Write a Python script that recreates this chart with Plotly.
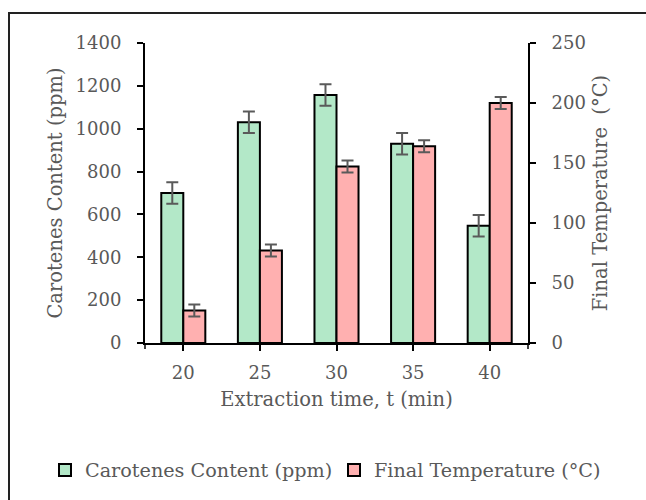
import plotly.graph_objects as go

# Extraction times (min)
times = ["20", "25", "30", "35", "40"]

# Carotenes content (ppm) with standard deviations
carotenes = [700, 1030, 1157, 930, 547]
carotenes_err = [50, 50, 50, 50, 50]

# Final temperature (°C) with standard deviations
temperature = [27, 77, 147, 164, 200]
temperature_err = [5, 5, 5, 5, 5]

FONT = "DejaVu Serif"
TXT = "#595959"

W, H = 646, 500
L, R, T, B = 145, 118, 43, 157
pw, ph = W - L - R, H - T - B


def px_x(p):
    return (p - L) / pw


def px_y(p):
    return (H - B - p) / ph


fig = go.Figure()

fig.add_trace(go.Bar(
    x=times, y=carotenes, name="Carotenes Content (ppm)",
    marker=dict(color="#b3e8c8", line=dict(color="black", width=2)),
    error_y=dict(type="data", array=carotenes_err, color="#5a5a5a", thickness=2, width=6),
    offsetgroup="1", yaxis="y", legend="legend",
))
fig.add_trace(go.Bar(
    x=times, y=temperature, name="Final Temperature (°C)",
    marker=dict(color="#ffb0b0", line=dict(color="black", width=2)),
    error_y=dict(type="data", array=temperature_err, color="#5a5a5a", thickness=2, width=6),
    offsetgroup="2", yaxis="y2", legend="legend2",
))

axis_common = dict(
    showline=True, linecolor="black", linewidth=2,
    ticks="outside", ticklen=6, tickwidth=1.5, tickcolor="black",
    showgrid=False, zeroline=False,
    tickfont=dict(family=FONT, size=18, color=TXT),
)
title_font = dict(family=FONT, size=19.5, color=TXT)

legend_common = dict(
    orientation="h", xref="container", yref="container",
    xanchor="left", y=(H - 470) / H, yanchor="middle",
    font=dict(family=FONT, size=19.2, color=TXT),
    itemwidth=30, borderwidth=0, bgcolor="rgba(0,0,0,0)",
)

fig.update_layout(
    width=W, height=H,
    margin=dict(l=L, r=R, t=T, b=B, autoexpand=False),
    paper_bgcolor="white", plot_bgcolor="white",
    barmode="group", bargap=0.425, bargroupgap=0,
    font=dict(family=FONT, color=TXT),
    xaxis=dict(
        **axis_common, range=[-0.5, 4.5], type="category",
        ticklabelstandoff=6,
        title=dict(text="Extraction time, t (min)", standoff=11, font=title_font),
    ),
    yaxis=dict(
        **axis_common, range=[0, 1400], dtick=200,
        ticklabelstandoff=12,
        title=dict(text="Carotenes Content (ppm)", standoff=8, font=title_font),
    ),
    yaxis2=dict(
        **axis_common, range=[0, 250], dtick=50, side="right", overlaying="y",
        ticklabelstandoff=12,
        title=dict(text="Final Temperature  (°C)", standoff=8, font=title_font),
    ),
    legend=dict(**legend_common, x=45 / W),
    legend2=dict(**legend_common, x=334 / W),
    showlegend=True,
)

# end ticks of the category axis
for xe in (0, 1):
    fig.add_shape(type="line", xref="paper", yref="paper",
                  x0=xe, x1=xe, y0=0, y1=px_y(H - B + 6),
                  line=dict(color="black", width=1.5))

# chart frame
fig.add_shape(type="rect", xref="paper", yref="paper",
              x0=px_x(9), x1=px_x(W + 20), y0=px_y(H + 20), y1=px_y(13),
              line=dict(color="#222222", width=2), layer="below")

fig.write_html("out.html")
